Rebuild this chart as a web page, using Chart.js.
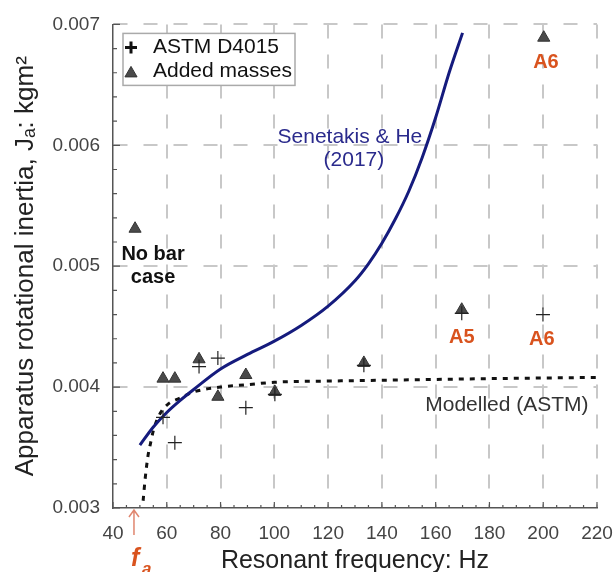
<!DOCTYPE html>
<html lang="en">
<head>
<meta charset="UTF-8">
<title>Apparatus rotational inertia</title>
<script src="https://cdn.jsdelivr.net/npm/chart.js"></script>
<style>
    body { margin: 0; background: #fff; }
    #wrap { width: 615px; height: 572px; }
</style>
</head>
<body>
<div id="wrap"><canvas id="inertiaChart" width="615" height="572"></canvas></div>
<script>
    // values
    const astmFreq = [58.6, 63.0, 72.0, 79.0, 89.4, 100.2, 133.3, 169.7, 199.9];
    const astmJ    = [0.00375, 0.00354, 0.00417, 0.00424, 0.00383, 0.00394, 0.00418, 0.00461, 0.00460];

    const massFreq = [48.2, 58.6, 63.0, 72.0, 79.0, 89.4, 100.2, 133.3, 169.7, 200.2];
    const massJ    = [0.00531, 0.00407, 0.00407, 0.00423, 0.00392, 0.00410, 0.00396, 0.00420, 0.00464, 0.00689];

    // Senetakis & He (2017) curve
    const senFreq = [50, 55, 60, 65, 70, 80, 90, 100, 110, 120, 130, 135, 140, 145, 150, 155, 160, 165, 170];
    const senJ    = [0.00352, 0.00367, 0.00379, 0.00389, 0.00398, 0.00415, 0.00427, 0.00438, 0.00451, 0.00467,
                     0.00488, 0.00502, 0.00519, 0.00539, 0.00562, 0.00590, 0.00623, 0.00660, 0.00693];

    // Modelled (ASTM) curve
    const modFreq = [51.2, 52, 53, 54, 55, 57, 60, 65, 70, 80, 90, 100, 120, 150, 180, 220];
    const modJ    = [0.00306, 0.00325, 0.00343, 0.00354, 0.00364, 0.00376, 0.00385, 0.00391, 0.00396,
                     0.00400, 0.00402, 0.00404, 0.00405, 0.00406, 0.00407, 0.00408];

    const xTicks = [40, 60, 80, 100, 120, 140, 160, 180, 200, 220];
    const yTicks = [0.003, 0.004, 0.005, 0.006, 0.007];
    const fa = 47.8;

    const FONT = "'Liberation Sans', Arial, sans-serif";
    const RED = '#d9531e';
    const NAVY = '#151b7d';
    const GRID = '#c8c8c8';
    const AXIS = '#555';

    // text labels placed in data coordinates
    const notes = [
        { text: 'Senetakis & He', x: 128.1, y: 0.006066, color: '#2a2a8c', font: '21px ' + FONT },
        { text: '(2017)',         x: 129.6, y: 0.005876, color: '#2a2a8c', font: '21px ' + FONT },
        { text: 'No bar',         x: 54.9,  y: 0.005100, color: '#111',    font: 'bold 20px ' + FONT },
        { text: 'case',           x: 54.9,  y: 0.004910, color: '#111',    font: 'bold 20px ' + FONT },
        { text: 'A6',             x: 201.0, y: 0.006686, color: RED,       font: 'bold 20px ' + FONT },
        { text: 'A5',             x: 169.7, y: 0.004413, color: RED,       font: 'bold 20px ' + FONT },
        { text: 'A6',             x: 199.5, y: 0.004397, color: RED,       font: 'bold 20px ' + FONT },
        { text: 'Modelled (ASTM)', x: 186.5, y: 0.003851, color: '#333',   font: '21px ' + FONT }
    ];

    function toPoints(xs, ys) {
        return xs.map((v, i) => ({ x: v, y: ys[i] }));
    }

    function isTick(list, v) {
        return list.some(t => Math.abs(t - v) < 1e-9);
    }

    function drawCross(ctx, x, y, r) {
        ctx.beginPath();
        ctx.moveTo(x - r, y); ctx.lineTo(x + r, y);
        ctx.moveTo(x, y - r); ctx.lineTo(x, y + r);
        ctx.stroke();
    }

    function drawTriangle(ctx, x, y, r) {
        ctx.beginPath();
        ctx.moveTo(x, y - r);
        ctx.lineTo(x + r * 0.866, y + r * 0.5);
        ctx.lineTo(x - r * 0.866, y + r * 0.5);
        ctx.closePath();
        ctx.fill();
        ctx.stroke();
    }

    const decor = {
        id: 'decor',
        afterDraw(chart) {
            const { ctx, chartArea: a, scales: { x, y } } = chart;
            ctx.save();

            // inward tick marks
            ctx.strokeStyle = AXIS;
            ctx.lineWidth = 1.2;
            ctx.beginPath();
            for (let f = x.min; f <= x.max; f += 5) {
                const px = x.getPixelForValue(f);
                const len = isTick(xTicks, f) ? 6 : 3;
                ctx.moveTo(px, a.bottom);
                ctx.lineTo(px, a.bottom - len);
            }
            for (let k = 0; k <= 20; k++) {
                const v = y.min + k * 0.0002;
                const py = y.getPixelForValue(v);
                const len = k % 5 === 0 ? 7 : 4;
                ctx.moveTo(a.left, py);
                ctx.lineTo(a.left + len, py);
            }
            ctx.stroke();

            // annotations
            ctx.textAlign = 'center';
            ctx.textBaseline = 'middle';
            notes.forEach(n => {
                ctx.font = n.font;
                ctx.fillStyle = n.color;
                ctx.fillText(n.text, x.getPixelForValue(n.x), y.getPixelForValue(n.y));
            });

            // legend
            const lx = a.left + 10, ly = a.top + 9;
            ctx.fillStyle = '#fff';
            ctx.fillRect(lx, ly, 172, 52);
            ctx.strokeStyle = '#aaa';
            ctx.lineWidth = 1.5;
            ctx.strokeRect(lx, ly, 172, 52);
            ctx.strokeStyle = '#111';
            ctx.lineWidth = 3;
            drawCross(ctx, lx + 8, ly + 14, 6);
            ctx.fillStyle = '#4a4a4a';
            ctx.strokeStyle = '#333';
            ctx.lineWidth = 1;
            drawTriangle(ctx, lx + 8, ly + 40, 7);
            ctx.font = '21px ' + FONT;
            ctx.fillStyle = '#111';
            ctx.textAlign = 'left';
            ctx.fillText('ASTM D4015', lx + 30, ly + 14);
            ctx.fillText('Added masses', lx + 30, ly + 38);

            // f_a arrow below the axis
            const ax = x.getPixelForValue(fa);
            ctx.strokeStyle = '#e0866f';
            ctx.lineWidth = 1.5;
            ctx.beginPath();
            ctx.moveTo(ax, a.bottom + 2);
            ctx.lineTo(ax, a.bottom + 27);
            ctx.moveTo(ax - 5, a.bottom + 9);
            ctx.lineTo(ax, a.bottom + 2);
            ctx.lineTo(ax + 5, a.bottom + 9);
            ctx.stroke();
            ctx.fillStyle = RED;
            ctx.textBaseline = 'alphabetic';
            ctx.font = 'italic bold 25px ' + FONT;
            ctx.fillText('f', ax - 3, a.bottom + 58);
            ctx.font = 'italic bold 17px ' + FONT;
            ctx.fillText('a', ax + 8, a.bottom + 66);

            ctx.restore();
        }
    };

    const ctx = document.getElementById('inertiaChart').getContext('2d');
    new Chart(ctx, {
        type: 'scatter',
        data: {
            datasets: [
                {
                    label: 'ASTM D4015',
                    data: toPoints(astmFreq, astmJ),
                    pointStyle: 'cross',
                    pointRadius: 7,
                    borderColor: '#222',
                    borderWidth: 1.2
                },
                {
                    label: 'Added masses',
                    data: toPoints(massFreq, massJ),
                    pointStyle: 'triangle',
                    pointRadius: 7,
                    backgroundColor: '#4a4a4a',
                    borderColor: '#333',
                    borderWidth: 1
                },
                {
                    label: 'Senetakis & He (2017)',
                    data: toPoints(senFreq, senJ),
                    showLine: true,
                    borderColor: NAVY,
                    borderWidth: 3,
                    pointRadius: 0,
                    cubicInterpolationMode: 'monotone',
                    fill: false
                },
                {
                    label: 'Modelled (ASTM)',
                    data: toPoints(modFreq, modJ),
                    showLine: true,
                    borderColor: '#111',
                    borderWidth: 3,
                    borderDash: [5, 6],
                    pointRadius: 0,
                    cubicInterpolationMode: 'monotone',
                    fill: false
                }
            ]
        },
        options: {
            responsive: false,
            animation: false,
            devicePixelRatio: 1,
            layout: { padding: { top: 24, right: 0, left: 0, bottom: 0 } },
            plugins: {
                legend: { display: false },
                tooltip: { enabled: false }
            },
            scales: {
                x: {
                    type: 'linear',
                    position: 'bottom',
                    min: xTicks[0],
                    max: xTicks[xTicks.length - 1],
                    afterFit: s => { s.height = 64; s.paddingLeft = 0; s.paddingRight = 18; },
                    afterBuildTicks: s => { s.ticks = xTicks.map(v => ({ value: v })); },
                    ticks: {
                        padding: 14,
                        color: '#444',
                        maxRotation: 0,
                        autoSkip: false,
                        font: { family: FONT, size: 19 }
                    },
                    grid: {
                        drawTicks: false,
                        lineWidth: 2,
                        color: c => (c.tick && c.tick.value === xTicks[0]) ? 'rgba(0,0,0,0)' : GRID
                    },
                    border: { color: AXIS, width: 1.5, dash: [14, 16] },
                    title: {
                        display: true,
                        text: 'Resonant frequency: Hz',
                        color: '#222',
                        font: { family: FONT, size: 25, lineHeight: 1 },
                        padding: { top: 0, bottom: -2 }
                    }
                },
                y: {
                    type: 'linear',
                    min: yTicks[0],
                    max: yTicks[yTicks.length - 1],
                    afterFit: s => { s.width = 113; },
                    afterBuildTicks: s => { s.ticks = yTicks.map(v => ({ value: v })); },
                    ticks: {
                        padding: 13,
                        color: '#444',
                        font: { family: FONT, size: 19 },
                        callback: v => v.toFixed(3)
                    },
                    grid: {
                        drawTicks: false,
                        lineWidth: 2,
                        color: c => (c.tick && Math.abs(c.tick.value - yTicks[0]) < 1e-9) ? 'rgba(0,0,0,0)' : GRID
                    },
                    border: { color: AXIS, width: 1.5, dash: [14, 16] },
                    title: {
                        display: true,
                        text: 'Apparatus rotational inertia, Jₐ: kgm²',
                        color: '#222',
                        font: { family: FONT, size: 26, lineHeight: 1 },
                        padding: { top: 13, bottom: 0 }
                    }
                }
            }
        },
        plugins: [decor]
    });
</script>
</body>
</html>
